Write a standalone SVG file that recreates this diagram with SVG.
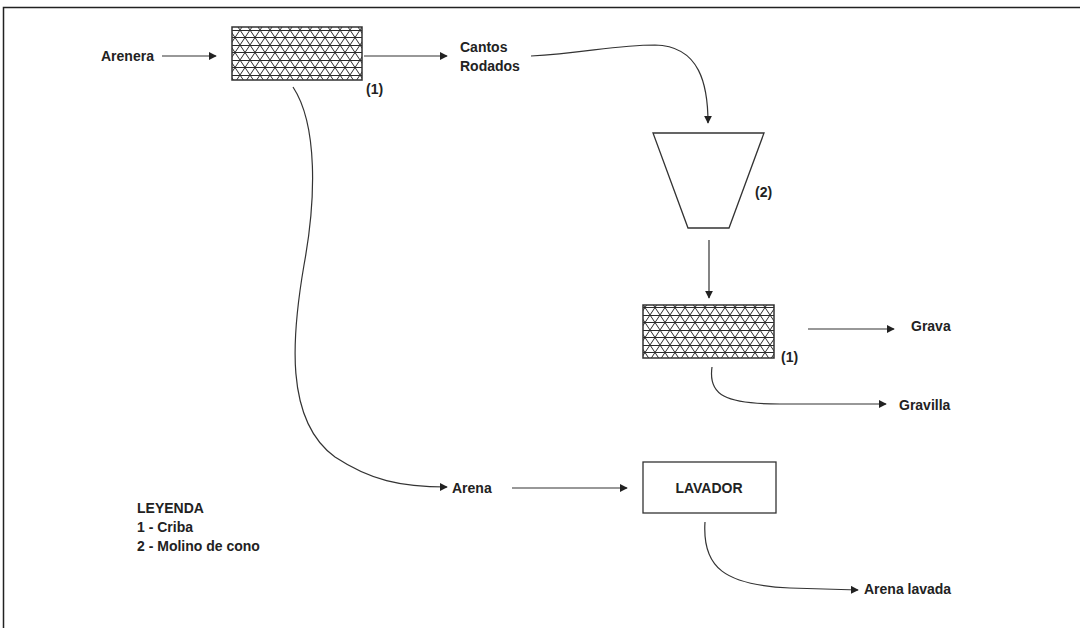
<svg xmlns="http://www.w3.org/2000/svg" width="1080" height="628" viewBox="0 0 1080 628">
<style>
text{font-family:"Liberation Sans",Arial,sans-serif;font-size:14px;font-weight:bold;fill:#222}
.ln{fill:none;stroke:#333;stroke-width:1.2}
.box{fill:#fff;stroke:#333;stroke-width:1.3}
</style>
<defs>
<marker id="ah" viewBox="0 0 10 10" refX="9" refY="5" markerWidth="8" markerHeight="8" markerUnits="userSpaceOnUse" orient="auto"><path d="M0,0 L10,5 L0,10 z" fill="#222"/></marker>
<pattern id="mesh" patternUnits="userSpaceOnUse" width="10" height="15" x="0" y="0">
<rect width="10" height="15" fill="#fff"/>
<path d="M0,0 L10,15 M10,0 L0,15 M0,0.5 H10 M0,7.5 H10" stroke="#2a2a2a" stroke-width="1" fill="none"/>
</pattern>
</defs>
<rect width="1080" height="628" fill="#fff"/>
<path d="M3.5,628 V7.5 H1080" fill="none" stroke="#222" stroke-width="1.5"/>
<g id="criba1">
<rect x="232" y="27" width="130" height="53" fill="url(#mesh)" stroke="#333" stroke-width="1.5"/>
<text x="366" y="94">(1)</text>
</g>
<g id="molino">
<polygon points="653,133 764,133 729,228 688,228" class="box"/>
<text x="755" y="197">(2)</text>
</g>
<g id="criba2">
<rect x="643" y="305" width="131" height="53" fill="url(#mesh)" stroke="#333" stroke-width="1.5"/>
<text x="781" y="362">(1)</text>
</g>
<g id="lavador">
<rect x="643" y="462" width="133" height="51" class="box"/>
<text x="709" y="493" text-anchor="middle">LAVADOR</text>
</g>
<g id="labels">
<text x="101" y="61">Arenera</text>
<text x="460" y="52">Cantos</text>
<text x="460" y="71">Rodados</text>
<text x="911" y="331">Grava</text>
<text x="899" y="410">Gravilla</text>
<text x="452" y="493">Arena</text>
<text x="864" y="594">Arena lavada</text>
</g>
<g id="leyenda">
<text x="137" y="513">LEYENDA</text>
<text x="137" y="532">1 - Criba</text>
<text x="137" y="551">2 - Molino de cono</text>
</g>
<g id="connectors">
<path class="ln" d="M162,56 H216" marker-end="url(#ah)"/>
<path class="ln" d="M364,56 H447" marker-end="url(#ah)"/>
<path class="ln" d="M531,56 C585,53 615,45 655,45 C700,46 708,85 708,123" marker-end="url(#ah)"/>
<path class="ln" d="M709,240 V298" marker-end="url(#ah)"/>
<path class="ln" d="M808,329 H894" marker-end="url(#ah)"/>
<path class="ln" d="M712,367 C708,395 725,404 780,404 L886,404" marker-end="url(#ah)"/>
<path class="ln" d="M293,87 C318,125 316,200 304,265 C292,335 284,420 335,457 C370,480 400,487 447,487" marker-end="url(#ah)"/>
<path class="ln" d="M512,488 H627" marker-end="url(#ah)"/>
<path class="ln" d="M705,522 C702,568 725,585 790,588 L858,590" marker-end="url(#ah)"/>
</g>
</svg>
